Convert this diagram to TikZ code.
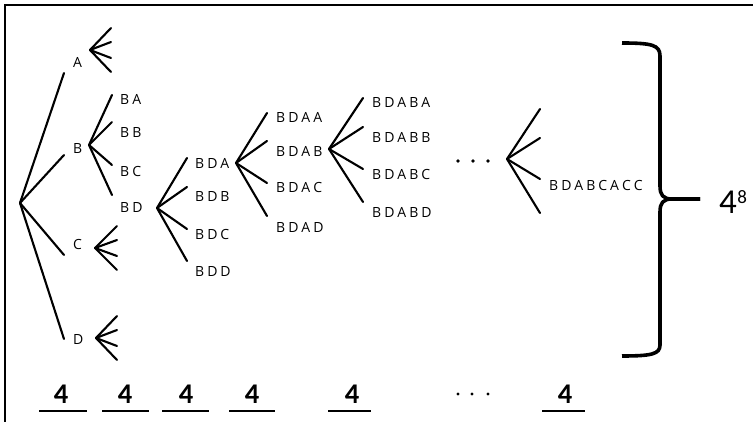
\documentclass[tikz,border=0pt]{standalone}
\usepackage{fontspec}
\setmainfont{Open Sans}
\newfontfamily\digitfont{Carlito}
\newdimen\lsp \lsp=3.0pt
% letter-spaced label text
\def\spaced#1{\spacedA#1\relax}
\def\spacedA#1#2{#1\ifx\relax#2\else\kern\lsp\relax\expandafter\spacedA\fi#2}
\tikzset{
  branch/.style={line width=2.1pt, line cap=round},
  lab/.style={anchor=west, inner sep=0pt, font=\fontsize{14}{15}\selectfont},
  big/.style={inner sep=0pt, font=\digitfont\bfseries\fontsize{28.5}{30}\selectfont},
  blank/.style={line width=2.6pt},
  brace/.style={line width=3.6pt, line join=round},
  dot/.style={fill=black, draw=none}
}
\begin{document}
\begin{tikzpicture}[x={(1pt,0)}, y={(0,-1pt)}]
\useasboundingbox (0,0) rectangle (753,422);
% frame (top and left edges only)
\draw[line width=2.5pt] (5,422) -- (5,5) -- (753,5);

% root and first level
\coordinate (root) at (20,203);
\coordinate (rA) at (64,73);
\coordinate (rB) at (64,155);
\coordinate (rC) at (64,255);
\coordinate (rD) at (64,339);
\foreach \n in {rA,rB,rC,rD} \draw[branch] (root) -- (\n);
\node[lab] (A) at (73,62) {A};
\node[lab] (B) at (73,149) {B};
\node[lab] (C) at (73,245) {C};
\node[lab] (D) at (73,340) {D};

% fan after A
\coordinate (fA) at (90,50);
\foreach \y [count=\k] in {28,42,58,72} {\coordinate (fA\k) at (111,\y); \draw[branch] (fA) -- (fA\k);}
% fan after B
\coordinate (fB) at (89,145);
\foreach \y [count=\k] in {95,122,165,195} {\coordinate (fB\k) at (112,\y); \draw[branch] (fB) -- (fB\k);}
% fan after C
\coordinate (fC) at (95,248);
\foreach \y [count=\k] in {226,240,256,270} {\coordinate (fC\k) at (117,\y); \draw[branch] (fC) -- (fC\k);}
% fan after D
\coordinate (fD) at (96,338);
\foreach \y [count=\k] in {316,330,346,360} {\coordinate (fD\k) at (117,\y); \draw[branch] (fD) -- (fD\k);}

\node[lab] (BA) at (120,99) {\spaced{BA}};
\node[lab] (BB) at (120,133) {\spaced{BB}};
\node[lab] (BC) at (120,172) {\spaced{BC}};
\node[lab] (BD) at (120,208) {\spaced{BD}};

% fan after BD
\coordinate (fBD) at (157,208);
\foreach \y [count=\k] in {158,187,229,261} {\coordinate (fBD\k) at (187,\y); \draw[branch] (fBD) -- (fBD\k);}
\node[lab] (BDA) at (195,163) {\spaced{BDA}};
\node[lab] (BDB) at (195,197) {\spaced{BDB}};
\node[lab] (BDC) at (195,235) {\spaced{BDC}};
\node[lab] (BDD) at (195,272) {\spaced{BDD}};

% fan after BDA
\coordinate (fBDA) at (236,163);
\foreach \y [count=\k] in {113,141,183,216} {\coordinate (fBDA\k) at (267,\y); \draw[branch] (fBDA) -- (fBDA\k);}
\node[lab] (BDAA) at (276,117) {\spaced{BDAA}};
\node[lab] (BDAB) at (276,151) {\spaced{BDAB}};
\node[lab] (BDAC) at (276,188) {\spaced{BDAC}};
\node[lab] (BDAD) at (276,227) {\spaced{BDAD}};

% fan after BDAB
\coordinate (fBDAB) at (329,149);
\foreach \y [count=\k] in {98,127,169,202} {\coordinate (fBDAB\k) at (363,\y); \draw[branch] (fBDAB) -- (fBDAB\k);}
\node[lab] (BDABA) at (372,102) {\spaced{BDABA}};
\node[lab] (BDABB) at (372,137) {\spaced{BDABB}};
\node[lab] (BDABC) at (372,175) {\spaced{BDABC}};
\node[lab] (BDABD) at (372,212) {\spaced{BDABD}};

% ellipsis
\foreach \x in {458,473,488} \fill[dot] (\x,161) circle (1.8);

% last fan
\coordinate (fL) at (507,159);
\foreach \y [count=\k] in {109,138,179,213} {\coordinate (fL\k) at (540,\y); \draw[branch] (fL) -- (fL\k);}
\node[lab] (last) at (549,186) {\spaced{BDABCACC}};

% brace gathering all outcomes
\coordinate (bt) at (622,43);
\coordinate (bb) at (622,356);
\coordinate (tip) at (700,199);
\draw[brace] (bt) .. controls (652,43) and (660,45) .. (660,56) -- (660,186)
  .. controls (660,195) and (663,199) .. (672,199) -- (tip);
\draw[brace] (tip) -- (672,199) .. controls (663,199) and (660,203) .. (660,212)
  -- (660,345) .. controls (660,354) and (652,356) .. (bb);
\node[anchor=west, inner sep=0pt, font=\digitfont\fontsize{35}{37}\selectfont] (total) at (719,202)
  {4\kern0.5pt\raisebox{0.3em}{\fontsize{19}{20}\selectfont 8}};

% counts per position
\foreach \cx/\a/\b [count=\k] in {61/39/87, 125/102/149, 186/162/209, 252/229/275, 352/328/371, 565/542/585} {
  \node[big] (n\k) at (\cx,394) {4};
  \coordinate (u\k a) at (\a,411);
  \coordinate (u\k b) at (\b,411);
  \draw[blank] (u\k a) -- (u\k b);
}
\foreach \x in {458,472,488} \fill[dot] (\x,394) circle (1.7);
\end{tikzpicture}
\end{document}
